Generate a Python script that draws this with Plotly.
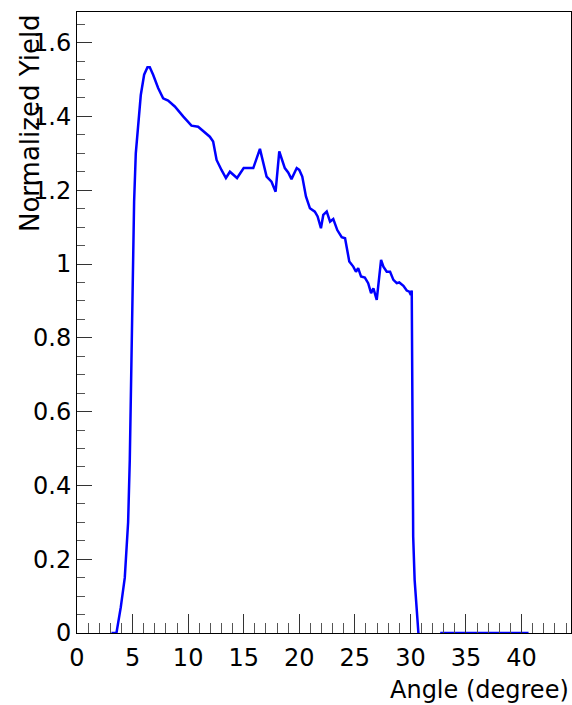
import plotly.graph_objects as go

# Angle (degree) and normalized yield
angle = [3.1, 3.55, 3.94, 4.14, 4.3, 4.6, 4.75, 4.9, 4.96, 5.05, 5.14, 5.29, 5.5, 5.74,
         6.04, 6.34, 6.55, 6.85, 7.3, 7.75, 8.2, 8.8, 9.55, 10.3, 10.9, 11.5, 11.95,
         12.25, 12.56, 13.0, 13.4, 13.76, 14.4, 15.0, 15.86, 16.46, 17.06, 17.5, 17.87,
         18.2, 18.7, 19.0, 19.3, 19.77, 20.0, 20.27, 20.6, 20.96, 21.4, 21.65, 21.95,
         22.16, 22.47, 22.77, 23.06, 23.42, 23.82, 24.12, 24.27, 24.5, 24.86, 25.1,
         25.3, 25.56, 25.9, 26.2, 26.46, 26.67, 26.97, 27.36, 27.57, 27.87, 28.17,
         28.47, 28.77, 29.0, 29.37, 29.67, 29.9, 30.04, 30.12, 30.14, 30.2, 30.25,
         30.38, 30.5, 30.72, None, 32.68, 40.63]
yield_norm = [0.0, 0.0, 0.07, 0.117, 0.15, 0.30, 0.47, 0.74, 0.84, 1.0, 1.17, 1.30, 1.385,
              1.458, 1.513, 1.533, 1.533, 1.513, 1.477, 1.449, 1.443, 1.427, 1.400, 1.375,
              1.372, 1.357, 1.345, 1.332, 1.282, 1.255, 1.233, 1.250, 1.233, 1.260, 1.260,
              1.312, 1.237, 1.223, 1.196, 1.305, 1.260, 1.248, 1.230, 1.260, 1.255, 1.237,
              1.183, 1.151, 1.142, 1.129, 1.097, 1.133, 1.142, 1.115, 1.122, 1.092, 1.073,
              1.070, 1.047, 1.007, 0.993, 0.979, 0.989, 0.966, 0.963, 0.948, 0.921, 0.934,
              0.903, 1.011, 0.993, 0.979, 0.979, 0.957, 0.948, 0.950, 0.941, 0.928, 0.925,
              0.916, 0.928, 0.767, 0.44, 0.261, 0.144, 0.081, 0.0, None, 0.0, 0.0]

x_title = "Angle (degree)"
y_title = "Normalized Yield"

FONT = "DejaVu Sans, Liberation Sans, Arial, sans-serif"
FS = 24

fig = go.Figure()
fig.add_trace(go.Scatter(x=angle, y=yield_norm, mode="lines",
                         line=dict(color="#0000ff", width=2.5),
                         connectgaps=False, showlegend=False, hoverinfo="skip"))

W, H = 572, 705
L, R, T, B = 77, 1, 12, 72

fig.update_layout(
    width=W, height=H,
    margin=dict(l=L, r=R, t=T, b=B),
    paper_bgcolor="white", plot_bgcolor="white",
    font=dict(family=FONT, size=FS, color="black"),
    xaxis=dict(range=[0, 44.45], tickmode="linear", tick0=0, dtick=5,
               ticks="inside", ticklen=19, tickwidth=1, tickcolor="#333",
               minor=dict(dtick=1, ticklen=10, tickwidth=1, tickcolor="#555", ticks="inside"),
               showgrid=False, zeroline=False, showline=True, linecolor="black",
               linewidth=1, mirror=True, tickfont=dict(size=FS), ticklabelstandoff=3),
    yaxis=dict(range=[0, 1.683], tickmode="linear", tick0=0, dtick=0.2,
               ticks="inside", ticklen=15, tickwidth=1, tickcolor="#333",
               minor=dict(dtick=0.05, ticklen=8, tickwidth=1, tickcolor="#555", ticks="inside"),
               showgrid=False, zeroline=False, showline=True, linecolor="black",
               linewidth=1, mirror=True, tickfont=dict(size=FS), ticklabelstandoff=0),
)

pw = W - L - R
ph = H - T - B
fig.add_annotation(text=x_title, xref="paper", yref="paper",
                   x=1.0, y=-(690 - (T + ph)) / ph, xanchor="right", yanchor="middle",
                   showarrow=False, font=dict(size=FS, family=FONT))
fig.add_annotation(text=y_title, xref="paper", yref="paper", textangle=-90,
                   x=(30 - L) / pw, y=1.0, xanchor="center", yanchor="top",
                   showarrow=False, font=dict(size=26, family=FONT))

fig.write_html("out.html")
